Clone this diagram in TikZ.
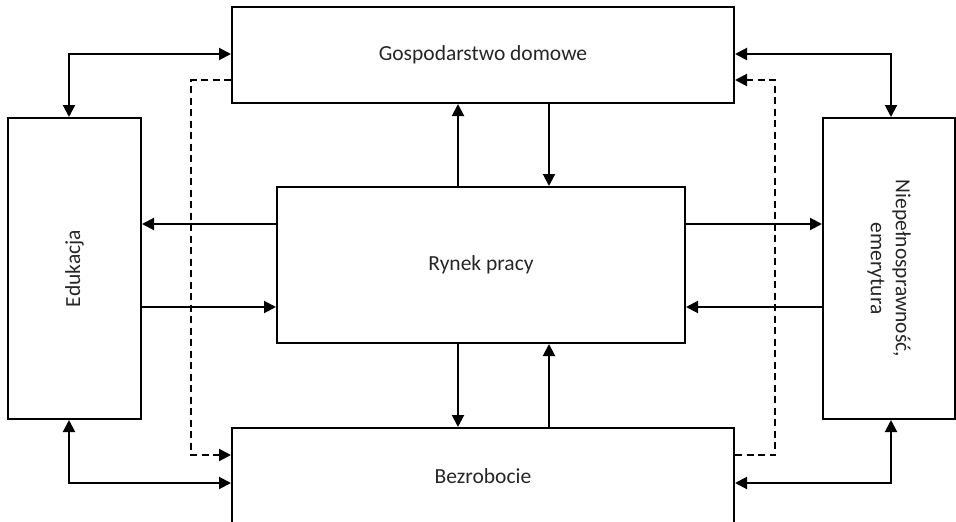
\documentclass[tikz,border=0pt]{standalone}
\usepackage{fontspec}
\setmainfont{Carlito}
\usetikzlibrary{arrows.meta}

\begin{document}
\begin{tikzpicture}[x=1pt,y=-1pt,
  box/.style={draw,line width=2pt,inner sep=0pt,align=center,
    font=\fontsize{21.5}{25}\selectfont,text=black!85},
  link/.style={line width=2pt,arrows={-Triangle[length=12pt,width=12pt]}},
  duallink/.style={link,arrows={Triangle[length=12pt,width=12pt]-Triangle[length=12pt,width=12pt]}},
  dashlink/.style={link,dash pattern=on 7pt off 4.5pt}]
  % Boundary
  \path[use as bounding box] (0,0) rectangle (956,522);
  % Boxes
  \node[box,minimum width=502pt,minimum height=96pt] (dom) at (483,55) {Gospodarstwo domowe};
  \node[box,minimum width=502pt,minimum height=96pt] (bez) at (483,476) {Bezrobocie};
  \node[box,minimum width=408pt,minimum height=156pt] (rp) at (481,265) {Rynek pracy};
  \node[box,minimum width=133pt,minimum height=301pt] (edu) at (74.5,268.5) {};
  \node[box,minimum width=132pt,minimum height=301pt] (nie) at (889,268.5) {};
  % Rotated labels
  \node[rotate=90,font=\fontsize{21.5}{25}\selectfont,text=black!85] (edutxt) at (edu.center) {Edukacja};
  \node[rotate=-90,align=center,font=\fontsize{21.5}{25}\selectfont,text=black!85] (nietxt) at (nie.center) {Niepełnosprawność,\\emerytura};
  % Outer loops
  \draw[duallink] (edu.north -| 69,0) |- (dom.west |- 0,54);
  \draw[duallink] (edu.south -| 69,0) |- (bez.west |- 0,483);
  \draw[duallink] (dom.east |- 0,54) -| (nie.north -| 891,0);
  \draw[duallink] (bez.east |- 0,483) -| (nie.south -| 891,0);
  % Dashed links
  \draw[dashlink] (dom.west |- 0,80) -| (191,455) -- (bez.west |- 0,455);
  \draw[dashlink] (bez.east |- 0,455) -| (775,80) -- (dom.east |- 0,80);
  % Market links
  \draw[link] (rp.north -| 458,0) -- (dom.south -| 458,0);
  \draw[link] (dom.south -| 549,0) -- (rp.north -| 549,0);
  \draw[link] (rp.south -| 458,0) -- (bez.north -| 458,0);
  \draw[link] (bez.north -| 549,0) -- (rp.south -| 549,0);
  \draw[link] (rp.west |- 0,224) -- (edu.east |- 0,224);
  \draw[link] (edu.east |- 0,307) -- (rp.west |- 0,307);
  \draw[link] (rp.east |- 0,224) -- (nie.west |- 0,224);
  \draw[link] (nie.west |- 0,307) -- (rp.east |- 0,307);
\end{tikzpicture}
\end{document}
